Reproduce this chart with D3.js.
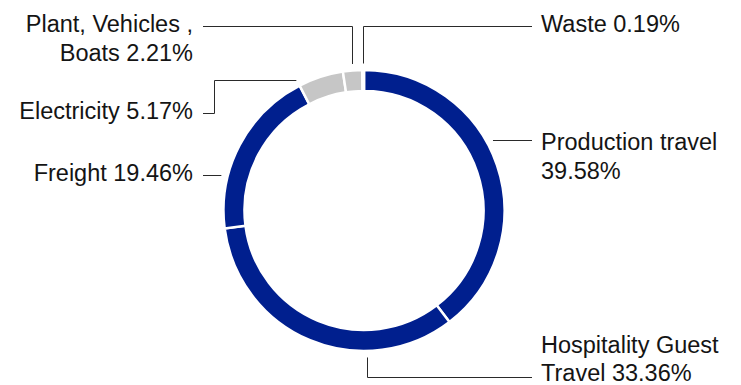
<!DOCTYPE html>
<html>
<head>
<meta charset="utf-8">
<script src="https://cdn.jsdelivr.net/npm/d3@7"></script>
<style>
  html, body { margin: 0; padding: 0; background: #ffffff; }
  svg { display: block; }
  .lbl { font-family: "Liberation Sans", Arial, sans-serif; font-size: 23.5px; fill: #141414; }
</style>
</head>
<body>
<svg id="chart" width="741" height="385"></svg>
<script>
// Emission sources and their share of the total (%)
const categories = ["Production travel", "Hospitality Guest Travel", "Freight", "Electricity", "Plant, Vehicles , Boats", "Waste"];
const shares = [39.58, 33.36, 19.46, 5.17, 2.21, 0.19];
const sliceColors = ["#001f8e", "#001f8e", "#001f8e", "#c6c6c6", "#c6c6c6", "#c6c6c6"];

// Label placement: which side, how the leader leaves the ring, and text baselines
const labelLayout = [
  { side: "right", leader: "h", y: 140, baselines: [150, 179], wordsFirstLine: 2 },
  { side: "right", leader: "v-down", x: 367, turnY: 377, baselines: [353, 381], wordsFirstLine: 2 },
  { side: "left", leader: "h", y: 175, baselines: [181], wordsFirstLine: null },
  { side: "left", leader: "h-step", y: 80, stepX: 214, turnY: 113, baselines: [119], wordsFirstLine: null },
  { side: "left", leader: "v-up", turnY: 26, baselines: [31.5, 61], wordsFirstLine: 3 },
  { side: "right", leader: "v-up", turnY: 26, baselines: [31.5], wordsFirstLine: null }
];

const cx = 364, cy = 210.5;
const outerR = 140.5, innerR = 119.5, leaderR = 147;
const rightLineEnd = 532, rightTextX = 541;
const leftLineEnd = 203, leftTextX = 193;

const data = categories.map((c, i) => ({ name: c, value: shares[i], color: sliceColors[i], layout: labelLayout[i] }));

const svg = d3.select("#chart");
const g = svg.append("g").attr("transform", `translate(${cx},${cy})`);

const pie = d3.pie().value(d => d.value).sort(null).startAngle(0).endAngle(2 * Math.PI);
const arcs = pie(data);
const arc = d3.arc().innerRadius(innerR).outerRadius(outerR);

g.selectAll("path.slice")
  .data(arcs)
  .join("path")
  .attr("class", "slice")
  .attr("d", arc)
  .attr("fill", d => d.data.color)
  .attr("stroke", "#ffffff")
  .attr("stroke-width", 2.5)
  .attr("stroke-linejoin", "miter");

// Leader lines, in page coordinates
const px = v => Math.round(v) + 0.5;
function leaderPoints(a) {
  const L = a.data.layout;
  const mid = (a.startAngle + a.endAngle) / 2;
  const dir = L.side === "right" ? 1 : -1;
  const pts = [];
  if (L.leader === "h" || L.leader === "h-step") {
    const dy = L.y - cy;
    const x0 = cx + dir * Math.sqrt(leaderR * leaderR - dy * dy);
    if (L.leader === "h") {
      pts.push([x0, px(L.y)], [L.side === "right" ? rightLineEnd : leftLineEnd, px(L.y)]);
    } else {
      pts.push([x0, px(L.y)], [px(L.stepX), px(L.y)], [px(L.stepX), px(L.turnY)], [leftLineEnd, px(L.turnY)]);
    }
  } else if (L.leader === "v-down") {
    const dx = L.x - cx;
    const y0 = cy + Math.sqrt(leaderR * leaderR - dx * dx);
    pts.push([px(L.x), y0], [px(L.x), px(L.turnY)], [rightLineEnd, px(L.turnY)]);
  } else {
    const x = px(cx + leaderR * Math.sin(mid));
    const y0 = cy - leaderR * Math.cos(mid);
    pts.push([x, y0], [x, px(L.turnY)], [L.side === "right" ? rightLineEnd : leftLineEnd, px(L.turnY)]);
  }
  return pts;
}

svg.selectAll("path.leader")
  .data(arcs)
  .join("path")
  .attr("class", "leader")
  .attr("d", d => d3.line()(leaderPoints(d)))
  .attr("fill", "none")
  .attr("stroke", "#2a2a2a")
  .attr("stroke-width", 1);

// Labels: name followed by the share, wrapped where the layout asks
function labelLines(d) {
  const full = `${d.name} ${d.value.toFixed(2)}%`;
  const n = d.layout.wordsFirstLine;
  if (!n) return [full];
  const words = full.split(" ");
  return [words.slice(0, n).join(" "), words.slice(n).join(" ")];
}

const texts = svg.selectAll("text.lbl")
  .data(data)
  .join("text")
  .attr("class", "lbl")
  .attr("text-anchor", d => d.layout.side === "right" ? "start" : "end");

texts.each(function(d) {
  const t = d3.select(this);
  labelLines(d).forEach((line, i) => {
    t.append("tspan")
      .attr("x", d.layout.side === "right" ? rightTextX : leftTextX)
      .attr("y", d.layout.baselines[i])
      .text(line);
  });
});
</script>
</body>
</html>
